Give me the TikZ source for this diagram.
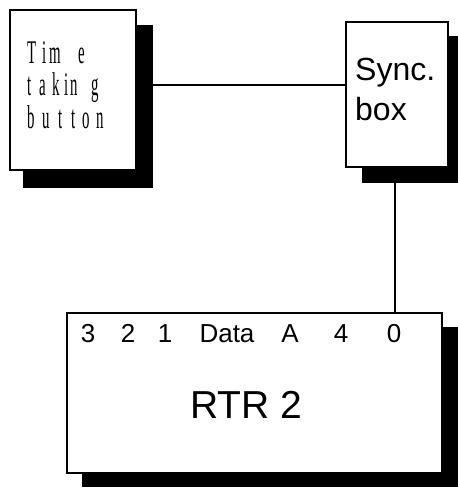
\documentclass[tikz,border=0pt]{standalone}
\usepackage{fontspec}
\setmainfont{Liberation Sans}
\newfontfamily\narrowserif{Liberation Serif}
\begin{document}
\begin{tikzpicture}[x=1pt,y=-1pt,
  box/.style={draw=black,line width=1.6pt,fill=white,inner sep=0pt},
  shadow/.style={fill=black},
  wire/.style={draw=black,line width=1.6pt},
  letter/.style={anchor=base west,inner sep=0pt,font=\narrowserif\fontsize{33}{33}\selectfont,xscale=0.45},
  lbl/.style={anchor=base west,inner sep=0pt,font=\fontsize{32}{32}\selectfont},
  top/.style={anchor=base,inner sep=0pt,font=\fontsize{26}{26}\selectfont}]
\useasboundingbox (0,0) rectangle (458,488);
% shadows
\fill[shadow] (23,25) rectangle (153,188);
\fill[shadow] (362,36) rectangle (462,183);
\fill[shadow] (82,327) rectangle (462,487);
% boxes
\node[box,minimum width=126pt,minimum height=160pt] (tb) at (73,90) {};
\node[box,minimum width=102pt,minimum height=145pt] (sb) at (397,94.5) {};
\node[box,minimum width=375pt,minimum height=160pt] (rtr) at (254.5,393) {};
% time taking button letters
\foreach \ch/\x [count=\i] in {T/27,i/42,m/49,e/78}
  \node[letter] (la\i) at (\x,63) {\ch};
\foreach \ch/\x [count=\i] in {t/27,a/39,k/52,i/64,n/70,g/91}
  \node[letter] (lb\i) at (\x,95) {\ch};
\foreach \ch/\x [count=\i] in {b/27,u/42,t/58,t/71,o/82,n/96}
  \node[letter] (lc\i) at (\x,128) {\ch};
% sync text
\node[lbl] (s1) at (355,80) {Sync.};
\node[lbl] (s2) at (355,120) {box};
% RTR labels
\foreach \t/\x [count=\i] in {3/88,2/128,1/165,Data/227,A/290,4/341,0/394}
  \node[top] (p\i) at (\x,342) {\t};
\node[anchor=base,inner sep=0pt,font=\fontsize{39}{39}\selectfont] (rt) at (246,418) {RTR 2};
% connectors
\draw[wire] ([yshift=5pt]tb.east) -- ([yshift=5pt]tb.east -| sb.west);
\draw[wire] ([xshift=-2pt]sb.south) -- ([xshift=-2pt]sb.south |- rtr.north);
\end{tikzpicture}
\end{document}
